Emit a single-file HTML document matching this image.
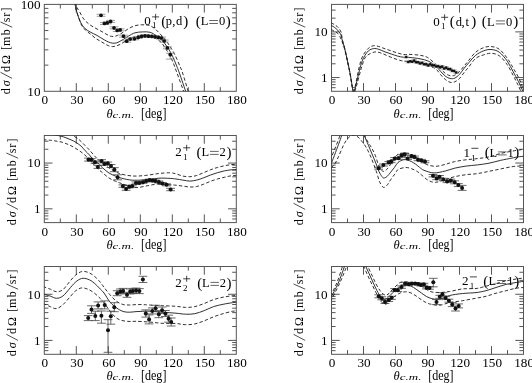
<!DOCTYPE html>
<html><head><meta charset="utf-8"><style>html,body{margin:0;padding:0;background:#fff;width:532px;height:383px;overflow:hidden}</style></head><body>
<svg width="532" height="383" viewBox="0 0 532 383" style="display:block;will-change:transform">
<rect width="532" height="383" fill="#fff"/>
<rect x="44.30" y="4.40" width="192.00" height="86.90" fill="none" stroke="#555" stroke-width="1"/>
<path d="M60.30 91.30v-4.1M60.30 4.40v4.1M76.30 91.30v-8.2M76.30 4.40v8.2M92.30 91.30v-4.1M92.30 4.40v4.1M108.30 91.30v-8.2M108.30 4.40v8.2M124.30 91.30v-4.1M124.30 4.40v4.1M140.30 91.30v-8.2M140.30 4.40v8.2M156.30 91.30v-4.1M156.30 4.40v4.1M172.30 91.30v-8.2M172.30 4.40v8.2M188.30 91.30v-4.1M188.30 4.40v4.1M204.30 91.30v-8.2M204.30 4.40v8.2M220.30 91.30v-4.1M220.30 4.40v4.1M44.30 65.14h4.1M236.30 65.14h-4.1M44.30 49.84h4.1M236.30 49.84h-4.1M44.30 38.98h4.1M236.30 38.98h-4.1M44.30 30.56h4.1M236.30 30.56h-4.1M44.30 23.68h4.1M236.30 23.68h-4.1M44.30 17.86h4.1M236.30 17.86h-4.1M44.30 12.82h4.1M236.30 12.82h-4.1M44.30 8.38h4.1M236.30 8.38h-4.1" stroke="#555" stroke-width="1" fill="none"/>
<text x="44.90" y="104.40" text-anchor="middle" font-size="13.2" font-family="Liberation Serif, serif">0</text>
<text x="76.90" y="104.40" text-anchor="middle" font-size="13.2" font-family="Liberation Serif, serif">30</text>
<text x="108.90" y="104.40" text-anchor="middle" font-size="13.2" font-family="Liberation Serif, serif">60</text>
<text x="140.90" y="104.40" text-anchor="middle" font-size="13.2" font-family="Liberation Serif, serif">90</text>
<text x="172.90" y="104.40" text-anchor="middle" font-size="13.2" font-family="Liberation Serif, serif">120</text>
<text x="204.90" y="104.40" text-anchor="middle" font-size="13.2" font-family="Liberation Serif, serif">150</text>
<text x="236.90" y="104.40" text-anchor="middle" font-size="13.2" font-family="Liberation Serif, serif">180</text>
<text x="40.50" y="95.60" text-anchor="end" font-size="13.2" font-family="Liberation Serif, serif">10</text>
<text x="40.50" y="8.70" text-anchor="end" font-size="13.2" font-family="Liberation Serif, serif">100</text>
<rect x="331.50" y="4.40" width="192.00" height="86.90" fill="none" stroke="#555" stroke-width="1"/>
<path d="M347.50 91.30v-4.1M347.50 4.40v4.1M363.50 91.30v-8.2M363.50 4.40v8.2M379.50 91.30v-4.1M379.50 4.40v4.1M395.50 91.30v-8.2M395.50 4.40v8.2M411.50 91.30v-4.1M411.50 4.40v4.1M427.50 91.30v-8.2M427.50 4.40v8.2M443.50 91.30v-4.1M443.50 4.40v4.1M459.50 91.30v-8.2M459.50 4.40v8.2M475.50 91.30v-4.1M475.50 4.40v4.1M491.50 91.30v-8.2M491.50 4.40v8.2M507.50 91.30v-4.1M507.50 4.40v4.1M331.50 87.68h4.1M523.50 87.68h-4.1M331.50 84.63h4.1M523.50 84.63h-4.1M331.50 81.98h4.1M523.50 81.98h-4.1M331.50 79.64h4.1M523.50 79.64h-4.1M331.50 77.55h8.2M523.50 77.55h-8.2M331.50 63.81h4.1M523.50 63.81h-4.1M331.50 55.77h4.1M523.50 55.77h-4.1M331.50 50.06h4.1M523.50 50.06h-4.1M331.50 45.64h4.1M523.50 45.64h-4.1M331.50 42.02h4.1M523.50 42.02h-4.1M331.50 38.96h4.1M523.50 38.96h-4.1M331.50 36.32h4.1M523.50 36.32h-4.1M331.50 33.98h4.1M523.50 33.98h-4.1M331.50 31.89h8.2M523.50 31.89h-8.2M331.50 18.15h4.1M523.50 18.15h-4.1M331.50 10.11h4.1M523.50 10.11h-4.1" stroke="#555" stroke-width="1" fill="none"/>
<text x="332.10" y="104.40" text-anchor="middle" font-size="13.2" font-family="Liberation Serif, serif">0</text>
<text x="364.10" y="104.40" text-anchor="middle" font-size="13.2" font-family="Liberation Serif, serif">30</text>
<text x="396.10" y="104.40" text-anchor="middle" font-size="13.2" font-family="Liberation Serif, serif">60</text>
<text x="428.10" y="104.40" text-anchor="middle" font-size="13.2" font-family="Liberation Serif, serif">90</text>
<text x="460.10" y="104.40" text-anchor="middle" font-size="13.2" font-family="Liberation Serif, serif">120</text>
<text x="492.10" y="104.40" text-anchor="middle" font-size="13.2" font-family="Liberation Serif, serif">150</text>
<text x="524.10" y="104.40" text-anchor="middle" font-size="13.2" font-family="Liberation Serif, serif">180</text>
<text x="327.70" y="81.85" text-anchor="end" font-size="13.2" font-family="Liberation Serif, serif">1</text>
<text x="327.70" y="36.19" text-anchor="end" font-size="13.2" font-family="Liberation Serif, serif">10</text>
<rect x="44.30" y="135.50" width="192.00" height="87.10" fill="none" stroke="#555" stroke-width="1"/>
<path d="M60.30 222.60v-4.1M60.30 135.50v4.1M76.30 222.60v-8.2M76.30 135.50v8.2M92.30 222.60v-4.1M92.30 135.50v4.1M108.30 222.60v-8.2M108.30 135.50v8.2M124.30 222.60v-4.1M124.30 135.50v4.1M140.30 222.60v-8.2M140.30 135.50v8.2M156.30 222.60v-4.1M156.30 135.50v4.1M172.30 222.60v-8.2M172.30 135.50v8.2M188.30 222.60v-4.1M188.30 135.50v4.1M204.30 222.60v-8.2M204.30 135.50v8.2M220.30 222.60v-4.1M220.30 135.50v4.1M44.30 218.98h4.1M236.30 218.98h-4.1M44.30 215.91h4.1M236.30 215.91h-4.1M44.30 213.26h4.1M236.30 213.26h-4.1M44.30 210.92h4.1M236.30 210.92h-4.1M44.30 208.82h8.2M236.30 208.82h-8.2M44.30 195.05h4.1M236.30 195.05h-4.1M44.30 186.99h4.1M236.30 186.99h-4.1M44.30 181.27h4.1M236.30 181.27h-4.1M44.30 176.83h4.1M236.30 176.83h-4.1M44.30 173.21h4.1M236.30 173.21h-4.1M44.30 170.14h4.1M236.30 170.14h-4.1M44.30 167.49h4.1M236.30 167.49h-4.1M44.30 165.15h4.1M236.30 165.15h-4.1M44.30 163.05h8.2M236.30 163.05h-8.2M44.30 149.28h4.1M236.30 149.28h-4.1M44.30 141.22h4.1M236.30 141.22h-4.1" stroke="#555" stroke-width="1" fill="none"/>
<text x="44.90" y="235.70" text-anchor="middle" font-size="13.2" font-family="Liberation Serif, serif">0</text>
<text x="76.90" y="235.70" text-anchor="middle" font-size="13.2" font-family="Liberation Serif, serif">30</text>
<text x="108.90" y="235.70" text-anchor="middle" font-size="13.2" font-family="Liberation Serif, serif">60</text>
<text x="140.90" y="235.70" text-anchor="middle" font-size="13.2" font-family="Liberation Serif, serif">90</text>
<text x="172.90" y="235.70" text-anchor="middle" font-size="13.2" font-family="Liberation Serif, serif">120</text>
<text x="204.90" y="235.70" text-anchor="middle" font-size="13.2" font-family="Liberation Serif, serif">150</text>
<text x="236.90" y="235.70" text-anchor="middle" font-size="13.2" font-family="Liberation Serif, serif">180</text>
<text x="40.50" y="213.12" text-anchor="end" font-size="13.2" font-family="Liberation Serif, serif">1</text>
<text x="40.50" y="167.35" text-anchor="end" font-size="13.2" font-family="Liberation Serif, serif">10</text>
<rect x="331.50" y="135.50" width="192.00" height="87.10" fill="none" stroke="#555" stroke-width="1"/>
<path d="M347.50 222.60v-4.1M347.50 135.50v4.1M363.50 222.60v-8.2M363.50 135.50v8.2M379.50 222.60v-4.1M379.50 135.50v4.1M395.50 222.60v-8.2M395.50 135.50v8.2M411.50 222.60v-4.1M411.50 135.50v4.1M427.50 222.60v-8.2M427.50 135.50v8.2M443.50 222.60v-4.1M443.50 135.50v4.1M459.50 222.60v-8.2M459.50 135.50v8.2M475.50 222.60v-4.1M475.50 135.50v4.1M491.50 222.60v-8.2M491.50 135.50v8.2M507.50 222.60v-4.1M507.50 135.50v4.1M331.50 218.98h4.1M523.50 218.98h-4.1M331.50 215.91h4.1M523.50 215.91h-4.1M331.50 213.26h4.1M523.50 213.26h-4.1M331.50 210.92h4.1M523.50 210.92h-4.1M331.50 208.82h8.2M523.50 208.82h-8.2M331.50 195.05h4.1M523.50 195.05h-4.1M331.50 186.99h4.1M523.50 186.99h-4.1M331.50 181.27h4.1M523.50 181.27h-4.1M331.50 176.83h4.1M523.50 176.83h-4.1M331.50 173.21h4.1M523.50 173.21h-4.1M331.50 170.14h4.1M523.50 170.14h-4.1M331.50 167.49h4.1M523.50 167.49h-4.1M331.50 165.15h4.1M523.50 165.15h-4.1M331.50 163.05h8.2M523.50 163.05h-8.2M331.50 149.28h4.1M523.50 149.28h-4.1M331.50 141.22h4.1M523.50 141.22h-4.1" stroke="#555" stroke-width="1" fill="none"/>
<text x="332.10" y="235.70" text-anchor="middle" font-size="13.2" font-family="Liberation Serif, serif">0</text>
<text x="364.10" y="235.70" text-anchor="middle" font-size="13.2" font-family="Liberation Serif, serif">30</text>
<text x="396.10" y="235.70" text-anchor="middle" font-size="13.2" font-family="Liberation Serif, serif">60</text>
<text x="428.10" y="235.70" text-anchor="middle" font-size="13.2" font-family="Liberation Serif, serif">90</text>
<text x="460.10" y="235.70" text-anchor="middle" font-size="13.2" font-family="Liberation Serif, serif">120</text>
<text x="492.10" y="235.70" text-anchor="middle" font-size="13.2" font-family="Liberation Serif, serif">150</text>
<text x="524.10" y="235.70" text-anchor="middle" font-size="13.2" font-family="Liberation Serif, serif">180</text>
<text x="327.70" y="213.12" text-anchor="end" font-size="13.2" font-family="Liberation Serif, serif">1</text>
<text x="327.70" y="167.35" text-anchor="end" font-size="13.2" font-family="Liberation Serif, serif">10</text>
<rect x="44.30" y="266.50" width="192.00" height="87.80" fill="none" stroke="#555" stroke-width="1"/>
<path d="M60.30 354.30v-4.1M60.30 266.50v4.1M76.30 354.30v-8.2M76.30 266.50v8.2M92.30 354.30v-4.1M92.30 266.50v4.1M108.30 354.30v-8.2M108.30 266.50v8.2M124.30 354.30v-4.1M124.30 266.50v4.1M140.30 354.30v-8.2M140.30 266.50v8.2M156.30 354.30v-4.1M156.30 266.50v4.1M172.30 354.30v-8.2M172.30 266.50v8.2M188.30 354.30v-4.1M188.30 266.50v4.1M204.30 354.30v-8.2M204.30 266.50v8.2M220.30 354.30v-4.1M220.30 266.50v4.1M44.30 350.65h4.1M236.30 350.65h-4.1M44.30 347.56h4.1M236.30 347.56h-4.1M44.30 344.88h4.1M236.30 344.88h-4.1M44.30 342.52h4.1M236.30 342.52h-4.1M44.30 340.41h8.2M236.30 340.41h-8.2M44.30 326.52h4.1M236.30 326.52h-4.1M44.30 318.40h4.1M236.30 318.40h-4.1M44.30 312.64h4.1M236.30 312.64h-4.1M44.30 308.16h4.1M236.30 308.16h-4.1M44.30 304.51h4.1M236.30 304.51h-4.1M44.30 301.42h4.1M236.30 301.42h-4.1M44.30 298.75h4.1M236.30 298.75h-4.1M44.30 296.39h4.1M236.30 296.39h-4.1M44.30 294.28h8.2M236.30 294.28h-8.2M44.30 280.39h4.1M236.30 280.39h-4.1M44.30 272.26h4.1M236.30 272.26h-4.1" stroke="#555" stroke-width="1" fill="none"/>
<text x="44.90" y="367.40" text-anchor="middle" font-size="13.2" font-family="Liberation Serif, serif">0</text>
<text x="76.90" y="367.40" text-anchor="middle" font-size="13.2" font-family="Liberation Serif, serif">30</text>
<text x="108.90" y="367.40" text-anchor="middle" font-size="13.2" font-family="Liberation Serif, serif">60</text>
<text x="140.90" y="367.40" text-anchor="middle" font-size="13.2" font-family="Liberation Serif, serif">90</text>
<text x="172.90" y="367.40" text-anchor="middle" font-size="13.2" font-family="Liberation Serif, serif">120</text>
<text x="204.90" y="367.40" text-anchor="middle" font-size="13.2" font-family="Liberation Serif, serif">150</text>
<text x="236.90" y="367.40" text-anchor="middle" font-size="13.2" font-family="Liberation Serif, serif">180</text>
<text x="40.50" y="344.71" text-anchor="end" font-size="13.2" font-family="Liberation Serif, serif">1</text>
<text x="40.50" y="298.58" text-anchor="end" font-size="13.2" font-family="Liberation Serif, serif">10</text>
<rect x="331.50" y="266.50" width="192.00" height="87.80" fill="none" stroke="#555" stroke-width="1"/>
<path d="M347.50 354.30v-4.1M347.50 266.50v4.1M363.50 354.30v-8.2M363.50 266.50v8.2M379.50 354.30v-4.1M379.50 266.50v4.1M395.50 354.30v-8.2M395.50 266.50v8.2M411.50 354.30v-4.1M411.50 266.50v4.1M427.50 354.30v-8.2M427.50 266.50v8.2M443.50 354.30v-4.1M443.50 266.50v4.1M459.50 354.30v-8.2M459.50 266.50v8.2M475.50 354.30v-4.1M475.50 266.50v4.1M491.50 354.30v-8.2M491.50 266.50v8.2M507.50 354.30v-4.1M507.50 266.50v4.1M331.50 350.65h4.1M523.50 350.65h-4.1M331.50 347.56h4.1M523.50 347.56h-4.1M331.50 344.88h4.1M523.50 344.88h-4.1M331.50 342.52h4.1M523.50 342.52h-4.1M331.50 340.41h8.2M523.50 340.41h-8.2M331.50 326.52h4.1M523.50 326.52h-4.1M331.50 318.40h4.1M523.50 318.40h-4.1M331.50 312.64h4.1M523.50 312.64h-4.1M331.50 308.16h4.1M523.50 308.16h-4.1M331.50 304.51h4.1M523.50 304.51h-4.1M331.50 301.42h4.1M523.50 301.42h-4.1M331.50 298.75h4.1M523.50 298.75h-4.1M331.50 296.39h4.1M523.50 296.39h-4.1M331.50 294.28h8.2M523.50 294.28h-8.2M331.50 280.39h4.1M523.50 280.39h-4.1M331.50 272.26h4.1M523.50 272.26h-4.1" stroke="#555" stroke-width="1" fill="none"/>
<text x="332.10" y="367.40" text-anchor="middle" font-size="13.2" font-family="Liberation Serif, serif">0</text>
<text x="364.10" y="367.40" text-anchor="middle" font-size="13.2" font-family="Liberation Serif, serif">30</text>
<text x="396.10" y="367.40" text-anchor="middle" font-size="13.2" font-family="Liberation Serif, serif">60</text>
<text x="428.10" y="367.40" text-anchor="middle" font-size="13.2" font-family="Liberation Serif, serif">90</text>
<text x="460.10" y="367.40" text-anchor="middle" font-size="13.2" font-family="Liberation Serif, serif">120</text>
<text x="492.10" y="367.40" text-anchor="middle" font-size="13.2" font-family="Liberation Serif, serif">150</text>
<text x="524.10" y="367.40" text-anchor="middle" font-size="13.2" font-family="Liberation Serif, serif">180</text>
<text x="327.70" y="344.71" text-anchor="end" font-size="13.2" font-family="Liberation Serif, serif">1</text>
<text x="327.70" y="298.58" text-anchor="end" font-size="13.2" font-family="Liberation Serif, serif">10</text>
<text x="106.40" y="117.90" font-size="12.5" font-style="italic" font-family="Liberation Serif, serif">θ</text>
<text x="112.60" y="118.30" font-size="9" font-style="italic" font-family="Liberation Serif, serif" textLength="21.6" lengthAdjust="spacingAndGlyphs">c.m.</text>
<text x="141.00" y="118.20" font-size="13.6" font-family="Liberation Serif, serif" textLength="25.4" lengthAdjust="spacingAndGlyphs">[deg]</text>
<text x="393.60" y="117.90" font-size="12.5" font-style="italic" font-family="Liberation Serif, serif">θ</text>
<text x="399.80" y="118.30" font-size="9" font-style="italic" font-family="Liberation Serif, serif" textLength="21.6" lengthAdjust="spacingAndGlyphs">c.m.</text>
<text x="428.20" y="118.20" font-size="13.6" font-family="Liberation Serif, serif" textLength="25.4" lengthAdjust="spacingAndGlyphs">[deg]</text>
<text x="106.40" y="248.90" font-size="12.5" font-style="italic" font-family="Liberation Serif, serif">θ</text>
<text x="112.60" y="249.30" font-size="9" font-style="italic" font-family="Liberation Serif, serif" textLength="21.6" lengthAdjust="spacingAndGlyphs">c.m.</text>
<text x="141.00" y="249.20" font-size="13.6" font-family="Liberation Serif, serif" textLength="25.4" lengthAdjust="spacingAndGlyphs">[deg]</text>
<text x="393.60" y="248.90" font-size="12.5" font-style="italic" font-family="Liberation Serif, serif">θ</text>
<text x="399.80" y="249.30" font-size="9" font-style="italic" font-family="Liberation Serif, serif" textLength="21.6" lengthAdjust="spacingAndGlyphs">c.m.</text>
<text x="428.20" y="249.20" font-size="13.6" font-family="Liberation Serif, serif" textLength="25.4" lengthAdjust="spacingAndGlyphs">[deg]</text>
<text x="106.40" y="379.90" font-size="12.5" font-style="italic" font-family="Liberation Serif, serif">θ</text>
<text x="112.60" y="380.30" font-size="9" font-style="italic" font-family="Liberation Serif, serif" textLength="21.6" lengthAdjust="spacingAndGlyphs">c.m.</text>
<text x="141.00" y="380.20" font-size="13.6" font-family="Liberation Serif, serif" textLength="25.4" lengthAdjust="spacingAndGlyphs">[deg]</text>
<text x="393.60" y="379.90" font-size="12.5" font-style="italic" font-family="Liberation Serif, serif">θ</text>
<text x="399.80" y="380.30" font-size="9" font-style="italic" font-family="Liberation Serif, serif" textLength="21.6" lengthAdjust="spacingAndGlyphs">c.m.</text>
<text x="428.20" y="380.20" font-size="13.6" font-family="Liberation Serif, serif" textLength="25.4" lengthAdjust="spacingAndGlyphs">[deg]</text>
<text transform="translate(9.90,94.60) rotate(-90)" text-anchor="middle" font-size="12" font-family="Liberation Serif, serif"><tspan x="3.3">d</tspan><tspan x="11.3" font-style="italic">σ</tspan><tspan x="25.5">d</tspan><tspan x="35.1">Ω</tspan><tspan x="46.5">[</tspan><tspan x="53.35">m</tspan><tspan x="62.3">b</tspan><tspan x="74.6">s</tspan><tspan x="79.95">r</tspan><tspan x="85.1">]</tspan></text>
<path d="M0.50 22.00L12.20 27.20M0.50 72.30L12.10 78.40" stroke="#222" stroke-width="0.8"/>
<text transform="translate(302.95,94.60) rotate(-90)" text-anchor="middle" font-size="12" font-family="Liberation Serif, serif"><tspan x="3.3">d</tspan><tspan x="11.3" font-style="italic">σ</tspan><tspan x="25.5">d</tspan><tspan x="35.1">Ω</tspan><tspan x="46.5">[</tspan><tspan x="53.35">m</tspan><tspan x="62.3">b</tspan><tspan x="74.6">s</tspan><tspan x="79.95">r</tspan><tspan x="85.1">]</tspan></text>
<path d="M293.55 22.00L305.25 27.20M293.55 72.30L305.15 78.40" stroke="#222" stroke-width="0.8"/>
<text transform="translate(15.75,225.60) rotate(-90)" text-anchor="middle" font-size="12" font-family="Liberation Serif, serif"><tspan x="3.3">d</tspan><tspan x="11.3" font-style="italic">σ</tspan><tspan x="25.5">d</tspan><tspan x="35.1">Ω</tspan><tspan x="46.5">[</tspan><tspan x="53.35">m</tspan><tspan x="62.3">b</tspan><tspan x="74.6">s</tspan><tspan x="79.95">r</tspan><tspan x="85.1">]</tspan></text>
<path d="M6.35 153.00L18.05 158.20M6.35 203.30L17.95 209.40" stroke="#222" stroke-width="0.8"/>
<text transform="translate(302.95,225.60) rotate(-90)" text-anchor="middle" font-size="12" font-family="Liberation Serif, serif"><tspan x="3.3">d</tspan><tspan x="11.3" font-style="italic">σ</tspan><tspan x="25.5">d</tspan><tspan x="35.1">Ω</tspan><tspan x="46.5">[</tspan><tspan x="53.35">m</tspan><tspan x="62.3">b</tspan><tspan x="74.6">s</tspan><tspan x="79.95">r</tspan><tspan x="85.1">]</tspan></text>
<path d="M293.55 153.00L305.25 158.20M293.55 203.30L305.15 209.40" stroke="#222" stroke-width="0.8"/>
<text transform="translate(15.75,356.60) rotate(-90)" text-anchor="middle" font-size="12" font-family="Liberation Serif, serif"><tspan x="3.3">d</tspan><tspan x="11.3" font-style="italic">σ</tspan><tspan x="25.5">d</tspan><tspan x="35.1">Ω</tspan><tspan x="46.5">[</tspan><tspan x="53.35">m</tspan><tspan x="62.3">b</tspan><tspan x="74.6">s</tspan><tspan x="79.95">r</tspan><tspan x="85.1">]</tspan></text>
<path d="M6.35 284.00L18.05 289.20M6.35 334.30L17.95 340.40" stroke="#222" stroke-width="0.8"/>
<text transform="translate(302.95,356.60) rotate(-90)" text-anchor="middle" font-size="12" font-family="Liberation Serif, serif"><tspan x="3.3">d</tspan><tspan x="11.3" font-style="italic">σ</tspan><tspan x="25.5">d</tspan><tspan x="35.1">Ω</tspan><tspan x="46.5">[</tspan><tspan x="53.35">m</tspan><tspan x="62.3">b</tspan><tspan x="74.6">s</tspan><tspan x="79.95">r</tspan><tspan x="85.1">]</tspan></text>
<path d="M293.55 284.00L305.25 289.20M293.55 334.30L305.15 340.40" stroke="#222" stroke-width="0.8"/>
<text x="144.20" y="25.40" font-size="13" font-family="Liberation Serif, serif">0</text>
<path d="M152.10 16.90H159.10M155.60 13.90V19.90" stroke="#222" stroke-width="0.85"/>
<text x="152.00" y="28.40" font-size="9" font-family="Liberation Serif, serif">1</text>
<text y="25.80" font-size="15" text-anchor="middle" font-family="Liberation Serif, serif"><tspan x="163.71">(</tspan><tspan x="185.84">)</tspan></text>
<text y="25.40" font-size="12.5" text-anchor="middle" font-family="Liberation Serif, serif"><tspan x="168.88">p</tspan><tspan x="173.73">,</tspan><tspan x="179.21">d</tspan></text>
<text y="25.80" font-size="15" text-anchor="middle" font-family="Liberation Serif, serif"><tspan x="198.21">(</tspan><tspan x="228.20">)</tspan></text>
<text y="25.40" font-size="12.5" text-anchor="middle" font-family="Liberation Serif, serif"><tspan x="204.50">L</tspan><tspan x="222.01">0</tspan></text>
<path d="M209.26 20.50H217.93M209.26 23.50H217.93" stroke="#333" stroke-width="0.75"/>
<text x="433.20" y="25.80" font-size="13" font-family="Liberation Serif, serif">0</text>
<path d="M441.10 17.30H448.10M444.60 14.30V20.30" stroke="#222" stroke-width="0.85"/>
<text x="441.00" y="28.80" font-size="9" font-family="Liberation Serif, serif">1</text>
<text y="26.20" font-size="15" text-anchor="middle" font-family="Liberation Serif, serif"><tspan x="452.25">(</tspan><tspan x="473.73">)</tspan></text>
<text y="25.80" font-size="12.5" text-anchor="middle" font-family="Liberation Serif, serif"><tspan x="458.85">d</tspan><tspan x="463.16">,</tspan><tspan x="467.33">t</tspan></text>
<text y="26.20" font-size="15" text-anchor="middle" font-family="Liberation Serif, serif"><tspan x="484.31">(</tspan><tspan x="515.71">)</tspan></text>
<text y="25.80" font-size="12.5" text-anchor="middle" font-family="Liberation Serif, serif"><tspan x="490.90">L</tspan><tspan x="509.23">0</tspan></text>
<path d="M495.88 20.90H504.96M495.88 23.90H504.96" stroke="#333" stroke-width="0.75"/>
<text x="175.30" y="156.30" font-size="13" font-family="Liberation Serif, serif">2</text>
<path d="M183.20 147.80H190.20M186.70 144.80V150.80" stroke="#222" stroke-width="0.85"/>
<text x="183.10" y="160.10" font-size="9" font-family="Liberation Serif, serif">1</text>
<text y="156.70" font-size="15" text-anchor="middle" font-family="Liberation Serif, serif"><tspan x="199.00">(</tspan><tspan x="228.90">)</tspan></text>
<text y="156.30" font-size="12.5" text-anchor="middle" font-family="Liberation Serif, serif"><tspan x="205.28">L</tspan><tspan x="222.73">2</tspan></text>
<path d="M210.02 151.40H218.67M210.02 154.40H218.67" stroke="#333" stroke-width="0.75"/>
<text x="463.50" y="156.80" font-size="13" font-family="Liberation Serif, serif">1</text>
<path d="M471.40 148.30H478.40" stroke="#222" stroke-width="0.85"/>
<text x="471.30" y="160.60" font-size="9" font-family="Liberation Serif, serif">1</text>
<text y="157.20" font-size="15" text-anchor="middle" font-family="Liberation Serif, serif"><tspan x="487.18">(</tspan><tspan x="516.82">)</tspan></text>
<text y="156.80" font-size="12.5" text-anchor="middle" font-family="Liberation Serif, serif"><tspan x="493.40">L</tspan><tspan x="510.70">1</tspan></text>
<path d="M498.10 151.90H506.67M498.10 154.90H506.67" stroke="#333" stroke-width="0.75"/>
<text x="175.30" y="287.30" font-size="13" font-family="Liberation Serif, serif">2</text>
<path d="M183.20 278.80H190.20M186.70 275.80V281.80" stroke="#222" stroke-width="0.85"/>
<text x="183.10" y="291.10" font-size="9" font-family="Liberation Serif, serif">2</text>
<text y="287.70" font-size="15" text-anchor="middle" font-family="Liberation Serif, serif"><tspan x="199.75">(</tspan><tspan x="228.95">)</tspan></text>
<text y="287.30" font-size="12.5" text-anchor="middle" font-family="Liberation Serif, serif"><tspan x="205.88">L</tspan><tspan x="222.92">2</tspan></text>
<path d="M210.51 282.40H218.95M210.51 285.40H218.95" stroke="#333" stroke-width="0.75"/>
<text x="462.00" y="285.40" font-size="13" font-family="Liberation Serif, serif">2</text>
<path d="M469.90 276.90H476.90" stroke="#222" stroke-width="0.85"/>
<text x="469.80" y="289.20" font-size="9" font-family="Liberation Serif, serif">1</text>
<text y="285.80" font-size="15" text-anchor="middle" font-family="Liberation Serif, serif"><tspan x="485.87">(</tspan><tspan x="516.65">)</tspan></text>
<text y="285.40" font-size="12.5" text-anchor="middle" font-family="Liberation Serif, serif"><tspan x="492.33">L</tspan><tspan x="510.30">1</tspan></text>
<path d="M497.21 280.50H506.11M497.21 283.50H506.11" stroke="#333" stroke-width="0.75"/>
<clipPath id="clip00"><rect x="44.30" y="4.40" width="192.00" height="86.90"/></clipPath>
<g clip-path="url(#clip00)" fill="none" stroke="#1a1a1a" stroke-width="0.9">
<path d="M74.60 2.00 C74.70 2.53 74.75 3.27 75.20 5.20 C75.65 7.13 76.43 10.82 77.30 13.60 C78.17 16.38 79.18 19.47 80.40 21.90 C81.62 24.33 82.85 26.45 84.60 28.20 C86.35 29.95 89.00 31.28 90.90 32.40 C92.80 33.52 94.45 34.07 96.00 34.90 C97.55 35.73 98.80 36.57 100.20 37.40 C101.60 38.23 103.02 39.13 104.40 39.90 C105.78 40.67 107.12 41.45 108.50 42.00 C109.88 42.55 111.30 43.07 112.70 43.20 C114.10 43.33 115.52 43.22 116.90 42.80 C118.28 42.38 119.62 41.47 121.00 40.70 C122.38 39.93 123.93 38.98 125.20 38.20 C126.47 37.42 126.97 36.90 128.60 36.00 C130.23 35.10 132.67 33.48 135.00 32.80 C137.33 32.12 140.08 31.98 142.60 31.90 C145.12 31.82 147.82 31.67 150.10 32.30 C152.38 32.93 154.43 34.52 156.30 35.70 C158.17 36.88 159.85 38.05 161.30 39.40 C162.75 40.75 163.75 42.13 165.00 43.80 C166.25 45.47 167.53 47.32 168.80 49.40 C170.07 51.48 171.35 53.68 172.60 56.30 C173.85 58.92 175.17 62.32 176.30 65.10 C177.43 67.88 177.75 68.35 179.40 73.00 C181.05 77.65 185.07 89.67 186.20 93.00"/>
<path d="M75.50 2.00 C75.63 2.72 75.65 4.72 76.30 6.30 C76.95 7.88 78.18 9.42 79.40 11.50 C80.62 13.58 82.03 16.72 83.60 18.80 C85.17 20.88 86.90 22.48 88.80 24.00 C90.70 25.52 92.97 26.72 95.00 27.90 C97.03 29.08 99.17 30.08 101.00 31.10 C102.83 32.12 104.47 33.17 106.00 34.00 C107.53 34.83 108.80 35.70 110.20 36.10 C111.60 36.50 113.15 36.53 114.40 36.40 C115.65 36.27 116.60 35.77 117.70 35.30 C118.80 34.83 119.88 34.23 121.00 33.60 C122.12 32.97 123.10 32.35 124.40 31.50 C125.70 30.65 127.03 29.47 128.80 28.50 C130.57 27.53 132.92 26.32 135.00 25.70 C137.08 25.08 139.42 24.92 141.30 24.80 C143.18 24.68 144.85 24.87 146.30 25.00 C147.75 25.13 148.55 24.97 150.00 25.60 C151.45 26.23 153.33 27.43 155.00 28.80 C156.67 30.17 158.33 32.03 160.00 33.80 C161.67 35.57 163.33 37.32 165.00 39.40 C166.67 41.48 168.33 43.70 170.00 46.30 C171.67 48.90 173.33 51.65 175.00 55.00 C176.67 58.35 178.73 63.40 180.00 66.40 C181.27 69.40 181.15 68.57 182.60 73.00 C184.05 77.43 187.68 89.67 188.70 93.00" stroke-dasharray="3.4 2.2"/>
<path d="M75.20 2.00 C75.28 3.07 75.17 5.95 75.70 8.40 C76.23 10.85 77.43 13.92 78.40 16.70 C79.37 19.48 80.28 22.83 81.50 25.10 C82.72 27.37 84.13 28.75 85.70 30.30 C87.27 31.85 89.18 33.02 90.90 34.40 C92.62 35.78 94.45 37.48 96.00 38.60 C97.55 39.72 98.80 40.27 100.20 41.10 C101.60 41.93 103.02 42.83 104.40 43.60 C105.78 44.37 107.12 45.20 108.50 45.70 C109.88 46.20 111.30 46.60 112.70 46.60 C114.10 46.60 115.52 46.13 116.90 45.70 C118.28 45.27 119.62 44.77 121.00 44.00 C122.38 43.23 123.90 41.97 125.20 41.10 C126.50 40.23 127.17 39.55 128.80 38.80 C130.43 38.05 132.92 37.12 135.00 36.60 C137.08 36.08 139.20 35.85 141.30 35.70 C143.40 35.55 145.82 35.50 147.60 35.70 C149.38 35.90 150.55 36.38 152.00 36.90 C153.45 37.42 154.75 37.87 156.30 38.80 C157.85 39.73 159.85 41.03 161.30 42.50 C162.75 43.97 163.75 45.72 165.00 47.60 C166.25 49.48 167.53 51.52 168.80 53.80 C170.07 56.08 171.23 58.10 172.60 61.30 C173.97 64.50 175.05 67.72 177.00 73.00 C178.95 78.28 183.08 89.67 184.30 93.00" stroke-dasharray="3.4 2.2"/>
</g>
<g fill="#111" stroke="#888" stroke-width="0.8">
<path d="M96.60 14.30h8.80M96.60 16.30h8.80M101.00 14.30V16.30M100.00 22.50h8.80M100.00 24.50h8.80M104.40 22.50V24.50M102.90 21.80h8.80M102.90 23.80h8.80M107.30 21.80V23.80M106.20 20.40h8.80M106.20 22.40h8.80M110.60 20.40V22.40M109.60 26.80h8.80M109.60 28.80h8.80M114.00 26.80V28.80M112.80 29.50h8.80M112.80 31.50h8.80M117.20 29.50V31.50M115.80 28.80h8.80M115.80 30.80h8.80M120.20 28.80V30.80M119.10 35.20h8.80M119.10 37.20h8.80M123.50 35.20V37.20M122.30 40.20h8.80M122.30 42.20h8.80M126.70 40.20V42.20M125.80 38.00h8.80M125.80 40.00h8.80M130.20 38.00V40.00M130.10 37.80h8.80M130.10 39.80h8.80M134.50 37.80V39.80M133.80 36.40h8.80M133.80 38.40h8.80M138.20 36.40V38.40M137.20 35.30h8.80M137.20 37.30h8.80M141.60 35.30V37.30M140.60 34.80h8.80M140.60 36.80h8.80M145.00 34.80V36.80M144.00 35.20h8.80M144.00 37.20h8.80M148.40 35.20V37.20M147.40 35.30h8.80M147.40 37.30h8.80M151.80 35.30V37.30M150.70 35.80h8.80M150.70 37.80h8.80M155.10 35.80V37.80M154.00 36.40h8.80M154.00 38.40h8.80M158.40 36.40V38.40M157.20 37.00h8.80M157.20 39.00h8.80M161.60 37.00V39.00M159.80 40.00h8.80M159.80 42.00h8.80M164.20 40.00V42.00M163.00 46.80h8.80M163.00 48.80h8.80M167.40 46.80V48.80M165.90 53.20h8.80M165.90 59.10h8.80M170.30 53.20V59.10" fill="none"/>
<circle cx="101.00" cy="15.30" r="1.85" stroke="none"/>
<circle cx="104.40" cy="23.50" r="1.85" stroke="none"/>
<circle cx="107.30" cy="22.80" r="1.85" stroke="none"/>
<circle cx="110.60" cy="21.40" r="1.85" stroke="none"/>
<circle cx="114.00" cy="27.80" r="1.85" stroke="none"/>
<circle cx="117.20" cy="30.50" r="1.85" stroke="none"/>
<circle cx="120.20" cy="29.80" r="1.85" stroke="none"/>
<circle cx="123.50" cy="36.20" r="1.85" stroke="none"/>
<circle cx="126.70" cy="41.20" r="1.85" stroke="none"/>
<circle cx="130.20" cy="39.00" r="1.85" stroke="none"/>
<circle cx="134.50" cy="38.80" r="1.85" stroke="none"/>
<circle cx="138.20" cy="37.40" r="1.85" stroke="none"/>
<circle cx="141.60" cy="36.30" r="1.85" stroke="none"/>
<circle cx="145.00" cy="35.80" r="1.85" stroke="none"/>
<circle cx="148.40" cy="36.20" r="1.85" stroke="none"/>
<circle cx="151.80" cy="36.30" r="1.85" stroke="none"/>
<circle cx="155.10" cy="36.80" r="1.85" stroke="none"/>
<circle cx="158.40" cy="37.40" r="1.85" stroke="none"/>
<circle cx="161.60" cy="38.00" r="1.85" stroke="none"/>
<circle cx="164.20" cy="41.00" r="1.85" stroke="none"/>
<circle cx="167.40" cy="47.80" r="1.85" stroke="none"/>
<circle cx="170.30" cy="54.70" r="1.85" stroke="none"/>
</g>
<clipPath id="clip01"><rect x="331.50" y="4.40" width="192.00" height="86.90"/></clipPath>
<g clip-path="url(#clip01)" fill="none" stroke="#1a1a1a" stroke-width="0.9">
<path d="M331.00 25.20 C331.78 25.70 334.40 27.12 335.70 28.20 C337.00 29.28 337.92 30.57 338.80 31.70 C339.68 32.83 340.43 33.62 341.00 35.00 C341.57 36.38 341.58 37.75 342.20 40.00 C342.82 42.25 343.82 45.00 344.70 48.50 C345.58 52.00 346.62 56.92 347.50 61.00 C348.38 65.08 349.25 69.00 350.00 73.00 C350.75 77.00 351.50 82.20 352.00 85.00 C352.50 87.80 352.55 89.00 353.00 89.80 C353.45 90.60 354.17 90.77 354.70 89.80 C355.23 88.83 355.53 86.72 356.20 84.00 C356.87 81.28 357.95 76.58 358.70 73.50 C359.45 70.42 359.87 68.17 360.70 65.50 C361.53 62.83 362.42 59.93 363.70 57.50 C364.98 55.07 366.75 52.38 368.40 50.90 C370.05 49.42 371.87 48.87 373.60 48.60 C375.33 48.33 376.90 48.75 378.80 49.30 C380.70 49.85 382.92 51.12 385.00 51.90 C387.08 52.68 389.20 53.30 391.30 54.00 C393.40 54.70 395.52 55.55 397.60 56.10 C399.68 56.65 401.73 57.07 403.80 57.30 C405.87 57.53 407.30 57.25 410.00 57.50 C412.70 57.75 416.87 58.17 420.00 58.80 C423.13 59.43 426.13 60.05 428.80 61.30 C431.47 62.55 434.02 64.60 436.00 66.30 C437.98 68.00 439.13 69.85 440.70 71.50 C442.27 73.15 443.83 75.03 445.40 76.20 C446.97 77.37 448.53 78.18 450.10 78.50 C451.67 78.82 453.23 78.80 454.80 78.10 C456.37 77.40 457.93 75.95 459.50 74.30 C461.07 72.65 462.63 70.15 464.20 68.20 C465.77 66.25 467.03 64.72 468.90 62.60 C470.77 60.48 473.02 57.43 475.40 55.50 C477.78 53.57 480.60 52.00 483.20 51.00 C485.80 50.00 488.32 49.30 491.00 49.50 C493.68 49.70 496.58 50.25 499.30 52.20 C502.02 54.15 504.98 57.93 507.30 61.20 C509.62 64.47 511.37 68.45 513.20 71.80 C515.03 75.15 516.70 78.10 518.30 81.30 C519.90 84.50 522.05 89.38 522.80 91.00"/>
<path d="M331.00 22.70 C331.78 23.15 334.40 24.48 335.70 25.40 C337.00 26.32 337.88 27.02 338.80 28.20 C339.72 29.38 340.63 30.70 341.20 32.50 C341.77 34.30 341.65 36.50 342.20 39.00 C342.75 41.50 343.67 44.00 344.50 47.50 C345.33 51.00 346.33 55.92 347.20 60.00 C348.07 64.08 348.95 68.00 349.70 72.00 C350.45 76.00 351.20 81.03 351.70 84.00 C352.20 86.97 352.28 88.83 352.70 89.80 C353.12 90.77 353.70 90.77 354.20 89.80 C354.70 88.83 355.12 86.63 355.70 84.00 C356.28 81.37 357.03 77.17 357.70 74.00 C358.37 70.83 358.87 68.00 359.70 65.00 C360.53 62.00 361.25 58.78 362.70 56.00 C364.15 53.22 366.58 50.02 368.40 48.30 C370.22 46.58 371.87 46.00 373.60 45.70 C375.33 45.40 376.90 45.98 378.80 46.50 C380.70 47.02 382.92 48.07 385.00 48.80 C387.08 49.53 389.20 50.20 391.30 50.90 C393.40 51.60 395.52 52.40 397.60 53.00 C399.68 53.60 401.73 54.27 403.80 54.50 C405.87 54.73 407.30 54.27 410.00 54.40 C412.70 54.53 417.07 54.78 420.00 55.30 C422.93 55.82 424.93 55.97 427.60 57.50 C430.27 59.03 433.82 62.57 436.00 64.50 C438.18 66.43 439.13 67.62 440.70 69.10 C442.27 70.58 443.83 72.30 445.40 73.40 C446.97 74.50 448.53 75.40 450.10 75.70 C451.67 76.00 453.23 75.90 454.80 75.20 C456.37 74.50 457.93 73.05 459.50 71.50 C461.07 69.95 462.63 67.78 464.20 65.90 C465.77 64.02 467.03 62.45 468.90 60.20 C470.77 57.95 473.02 54.47 475.40 52.40 C477.78 50.33 480.60 48.78 483.20 47.80 C485.80 46.82 488.32 46.25 491.00 46.50 C493.68 46.75 496.58 47.33 499.30 49.30 C502.02 51.27 504.97 55.15 507.30 58.30 C509.63 61.45 511.35 64.85 513.30 68.20 C515.25 71.55 517.30 74.77 519.00 78.40 C520.70 82.03 522.75 88.07 523.50 90.00" stroke-dasharray="3.4 2.2"/>
<path d="M331.00 29.40 C331.65 29.78 333.72 30.98 334.90 31.70 C336.08 32.42 337.25 32.85 338.10 33.70 C338.95 34.55 339.35 35.50 340.00 36.80 C340.65 38.10 341.22 39.38 342.00 41.50 C342.78 43.62 343.75 46.08 344.70 49.50 C345.65 52.92 346.78 57.92 347.70 62.00 C348.62 66.08 349.45 70.00 350.20 74.00 C350.95 78.00 351.70 83.37 352.20 86.00 C352.70 88.63 352.70 89.17 353.20 89.80 C353.70 90.43 354.57 90.77 355.20 89.80 C355.83 88.83 356.25 86.63 357.00 84.00 C357.75 81.37 358.88 77.00 359.70 74.00 C360.52 71.00 360.93 68.82 361.90 66.00 C362.87 63.18 364.08 59.18 365.50 57.10 C366.92 55.02 368.70 54.37 370.40 53.50 C372.10 52.63 373.95 51.98 375.70 51.90 C377.45 51.82 379.00 52.38 380.90 53.00 C382.80 53.62 385.02 54.73 387.10 55.60 C389.18 56.47 391.30 57.42 393.40 58.20 C395.50 58.98 397.62 59.78 399.70 60.30 C401.78 60.82 402.52 60.92 405.90 61.30 C409.28 61.68 415.98 61.77 420.00 62.60 C424.02 63.43 427.33 65.22 430.00 66.30 C432.67 67.38 434.22 67.68 436.00 69.10 C437.78 70.52 439.13 73.07 440.70 74.80 C442.27 76.53 443.83 78.25 445.40 79.50 C446.97 80.75 448.53 81.92 450.10 82.30 C451.67 82.68 453.23 82.43 454.80 81.80 C456.37 81.17 457.93 80.07 459.50 78.50 C461.07 76.93 462.63 74.35 464.20 72.40 C465.77 70.45 467.03 69.10 468.90 66.80 C470.77 64.50 473.02 60.57 475.40 58.60 C477.78 56.63 480.60 55.88 483.20 55.00 C485.80 54.12 488.32 53.17 491.00 53.30 C493.68 53.43 496.58 53.88 499.30 55.80 C502.02 57.72 504.98 61.52 507.30 64.80 C509.62 68.08 511.48 72.27 513.20 75.50 C514.92 78.73 516.30 81.53 517.60 84.20 C518.90 86.87 520.43 90.28 521.00 91.50" stroke-dasharray="3.4 2.2"/>
</g>
<g fill="#111" stroke="#999" stroke-width="0.8">
<path d="M403.60 56.08h5.20M403.60 57.88h5.20M406.20 56.08V57.88M405.60 61.03h5.20M405.60 62.83h5.20M408.20 61.03V62.83M407.60 60.34h5.20M407.60 62.14h5.20M410.20 60.34V62.14M409.60 60.84h5.20M409.60 62.64h5.20M412.20 60.84V62.64M411.60 59.74h5.20M411.60 61.54h5.20M414.20 59.74V61.54M413.60 61.23h5.20M413.60 63.03h5.20M416.20 61.23V63.03M415.60 61.37h5.20M415.60 63.17h5.20M418.20 61.37V63.17M417.60 62.54h5.20M417.60 64.34h5.20M420.20 62.54V64.34M419.60 61.89h5.20M419.60 63.69h5.20M422.20 61.89V63.69M421.60 63.40h5.20M421.60 65.20h5.20M424.20 63.40V65.20M423.60 63.24h5.20M423.60 65.04h5.20M426.20 63.24V65.04M425.60 64.63h5.20M425.60 66.43h5.20M428.20 64.63V66.43M427.60 63.42h5.20M427.60 65.22h5.20M430.20 63.42V65.22M429.60 64.50h5.20M429.60 66.30h5.20M432.20 64.50V66.30M431.60 64.29h5.20M431.60 66.09h5.20M434.20 64.29V66.09M433.60 65.62h5.20M433.60 67.42h5.20M436.20 65.62V67.42M435.60 65.27h5.20M435.60 67.08h5.20M438.20 65.27V67.08M437.60 66.28h5.20M437.60 68.08h5.20M440.20 66.28V68.08M439.60 65.76h5.20M439.60 67.56h5.20M442.20 65.76V67.56M441.60 67.61h5.20M441.60 69.41h5.20M444.20 67.61V69.41M443.60 66.74h5.20M443.60 68.54h5.20M446.20 66.74V68.54M445.60 68.10h5.20M445.60 69.90h5.20M448.20 68.10V69.90M447.60 68.24h5.20M447.60 70.04h5.20M450.20 68.24V70.04M449.60 69.89h5.20M449.60 71.69h5.20M452.20 69.89V71.69M451.60 70.05h5.20M451.60 71.85h5.20M454.20 70.05V71.85M453.60 71.60h5.20M453.60 73.40h5.20M456.20 71.60V73.40" fill="none"/>
<circle cx="406.20" cy="56.98" r="1.3" stroke="none"/>
<circle cx="408.20" cy="61.93" r="1.3" stroke="none"/>
<circle cx="410.20" cy="61.24" r="1.3" stroke="none"/>
<circle cx="412.20" cy="61.74" r="1.3" stroke="none"/>
<circle cx="414.20" cy="60.64" r="1.3" stroke="none"/>
<circle cx="416.20" cy="62.13" r="1.3" stroke="none"/>
<circle cx="418.20" cy="62.27" r="1.3" stroke="none"/>
<circle cx="420.20" cy="63.44" r="1.3" stroke="none"/>
<circle cx="422.20" cy="62.79" r="1.3" stroke="none"/>
<circle cx="424.20" cy="64.30" r="1.3" stroke="none"/>
<circle cx="426.20" cy="64.14" r="1.3" stroke="none"/>
<circle cx="428.20" cy="65.53" r="1.3" stroke="none"/>
<circle cx="430.20" cy="64.32" r="1.3" stroke="none"/>
<circle cx="432.20" cy="65.40" r="1.3" stroke="none"/>
<circle cx="434.20" cy="65.19" r="1.3" stroke="none"/>
<circle cx="436.20" cy="66.52" r="1.3" stroke="none"/>
<circle cx="438.20" cy="66.17" r="1.3" stroke="none"/>
<circle cx="440.20" cy="67.18" r="1.3" stroke="none"/>
<circle cx="442.20" cy="66.66" r="1.3" stroke="none"/>
<circle cx="444.20" cy="68.51" r="1.3" stroke="none"/>
<circle cx="446.20" cy="67.64" r="1.3" stroke="none"/>
<circle cx="448.20" cy="69.00" r="1.3" stroke="none"/>
<circle cx="450.20" cy="69.14" r="1.3" stroke="none"/>
<circle cx="452.20" cy="70.79" r="1.3" stroke="none"/>
<circle cx="454.20" cy="70.95" r="1.3" stroke="none"/>
<circle cx="456.20" cy="72.50" r="1.3" stroke="none"/>
</g>
<rect x="352.6" y="87.6" width="2.6" height="3.6" fill="none" stroke="#333" stroke-width="0.7"/>
<clipPath id="clip10"><rect x="44.30" y="135.50" width="192.00" height="87.10"/></clipPath>
<g clip-path="url(#clip10)" fill="none" stroke="#1a1a1a" stroke-width="0.9">
<path d="M50.00 133.50 C51.00 133.78 54.17 134.77 56.00 135.20 C57.83 135.63 59.33 135.67 61.00 136.10 C62.67 136.53 64.33 137.18 66.00 137.80 C67.67 138.42 69.33 139.03 71.00 139.80 C72.67 140.57 74.32 141.35 76.00 142.40 C77.68 143.45 79.57 144.72 81.10 146.10 C82.63 147.48 83.82 149.23 85.20 150.70 C86.58 152.17 88.13 153.50 89.40 154.90 C90.67 156.30 91.62 157.95 92.80 159.10 C93.98 160.25 94.83 160.32 96.50 161.80 C98.17 163.28 100.72 166.13 102.80 168.00 C104.88 169.87 106.92 171.67 109.00 173.00 C111.08 174.33 113.20 175.13 115.30 176.00 C117.40 176.87 118.77 177.50 121.60 178.20 C124.43 178.90 128.27 179.93 132.30 180.20 C136.33 180.47 141.37 180.13 145.80 179.80 C150.23 179.47 154.83 178.43 158.90 178.20 C162.97 177.97 167.35 178.27 170.20 178.40 C173.05 178.53 173.88 178.72 176.00 179.00 C178.12 179.28 180.60 179.75 182.90 180.10 C185.20 180.45 187.50 181.10 189.80 181.10 C192.10 181.10 194.40 180.65 196.70 180.10 C199.00 179.55 201.30 178.65 203.60 177.80 C205.90 176.95 208.20 175.85 210.50 175.00 C212.80 174.15 215.10 173.38 217.40 172.70 C219.70 172.02 222.00 171.38 224.30 170.90 C226.60 170.42 229.08 170.03 231.20 169.80 C233.32 169.57 236.03 169.55 237.00 169.50"/>
<path d="M70.00 133.00 C70.45 133.38 71.42 134.37 72.70 135.30 C73.98 136.23 76.30 137.57 77.70 138.60 C79.10 139.63 79.85 140.32 81.10 141.50 C82.35 142.68 83.82 144.30 85.20 145.70 C86.58 147.10 88.00 148.37 89.40 149.90 C90.80 151.43 92.00 153.13 93.60 154.90 C95.20 156.67 97.27 158.93 99.00 160.50 C100.73 162.07 102.17 162.97 104.00 164.30 C105.83 165.63 107.42 166.97 110.00 168.50 C112.58 170.03 115.73 172.25 119.50 173.50 C123.27 174.75 128.22 175.68 132.60 176.00 C136.98 176.32 141.42 175.82 145.80 175.40 C150.18 174.98 154.83 173.93 158.90 173.50 C162.97 173.07 167.35 172.75 170.20 172.80 C173.05 172.85 173.88 173.25 176.00 173.80 C178.12 174.35 180.60 175.62 182.90 176.10 C185.20 176.58 187.50 176.80 189.80 176.70 C192.10 176.60 194.40 176.17 196.70 175.50 C199.00 174.83 201.30 173.65 203.60 172.70 C205.90 171.75 208.20 170.67 210.50 169.80 C212.80 168.93 215.10 168.17 217.40 167.50 C219.70 166.83 222.00 166.28 224.30 165.80 C226.60 165.32 229.08 164.85 231.20 164.60 C233.32 164.35 236.03 164.35 237.00 164.30" stroke-dasharray="3.4 2.2"/>
<path d="M43.00 139.60 C44.42 139.73 49.33 140.15 51.50 140.40 C53.67 140.65 54.42 140.85 56.00 141.10 C57.58 141.35 59.33 141.48 61.00 141.90 C62.67 142.32 64.33 142.97 66.00 143.60 C67.67 144.23 69.33 144.87 71.00 145.70 C72.67 146.53 74.32 147.55 76.00 148.60 C77.68 149.65 79.42 150.75 81.10 152.00 C82.78 153.25 84.57 154.68 86.10 156.10 C87.63 157.52 88.57 158.62 90.30 160.50 C92.03 162.38 94.42 165.32 96.50 167.40 C98.58 169.48 100.72 171.23 102.80 173.00 C104.88 174.77 106.92 176.63 109.00 178.00 C111.08 179.37 113.20 180.27 115.30 181.20 C117.40 182.13 118.40 182.53 121.60 183.60 C124.80 184.67 130.15 187.25 134.50 187.60 C138.85 187.95 143.63 186.33 147.70 185.70 C151.77 185.07 155.15 183.95 158.90 183.80 C162.65 183.65 167.35 184.57 170.20 184.80 C173.05 185.03 173.88 184.98 176.00 185.20 C178.12 185.42 180.60 185.80 182.90 186.10 C185.20 186.40 187.50 186.93 189.80 187.00 C192.10 187.07 194.40 186.97 196.70 186.50 C199.00 186.03 201.30 185.07 203.60 184.20 C205.90 183.33 208.20 182.17 210.50 181.30 C212.80 180.43 215.10 179.67 217.40 179.00 C219.70 178.33 222.00 177.83 224.30 177.30 C226.60 176.77 229.08 176.10 231.20 175.80 C233.32 175.50 236.03 175.55 237.00 175.50" stroke-dasharray="3.4 2.2"/>
</g>
<g fill="#111" stroke="#444" stroke-width="0.8">
<path d="M84.10 158.10h8.80M84.10 161.10h8.80M88.50 158.10V161.10M86.90 158.60h8.80M86.90 161.00h8.80M91.30 158.60V161.00M90.60 161.00h8.80M90.60 163.40h8.80M95.00 161.00V163.40M93.50 165.40h8.80M93.50 168.40h8.80M97.90 165.40V168.40M97.20 159.70h8.80M97.20 162.10h8.80M101.60 159.70V162.10M100.00 162.90h8.80M100.00 165.30h8.80M104.40 162.90V165.30M103.40 162.00h8.80M103.40 164.40h8.80M107.80 162.00V164.40M106.60 164.50h8.80M106.60 167.50h8.80M111.00 164.50V167.50M110.00 167.70h8.80M110.00 171.70h8.80M114.40 167.70V171.70M113.20 174.80h8.80M113.20 179.80h8.80M117.60 174.80V179.80M118.50 184.90h8.80M118.50 187.30h8.80M122.90 184.90V187.30M121.70 187.90h8.80M121.70 190.30h8.80M126.10 187.90V190.30M124.80 185.50h8.80M124.80 187.90h8.80M129.20 185.50V187.90M127.90 185.10h8.80M127.90 187.10h8.80M132.30 185.10V187.10M131.60 181.90h8.80M131.60 183.90h8.80M136.00 181.90V183.90M134.80 181.90h8.80M134.80 183.90h8.80M139.20 181.90V183.90M138.60 181.30h8.80M138.60 183.30h8.80M143.00 181.30V183.30M141.80 180.00h8.80M141.80 182.00h8.80M146.20 180.00V182.00M145.10 179.10h8.80M145.10 181.10h8.80M149.50 179.10V181.10M148.00 179.50h8.80M148.00 181.50h8.80M152.40 179.50V181.50M150.80 180.00h8.80M150.80 182.00h8.80M155.20 180.00V182.00M154.50 181.00h8.80M154.50 183.00h8.80M158.90 181.00V183.00M157.90 182.50h8.80M157.90 184.50h8.80M162.30 182.50V184.50M162.10 183.80h8.80M162.10 185.80h8.80M166.50 183.80V185.80M166.20 188.30h8.80M166.20 190.70h8.80M170.60 188.30V190.70" fill="none"/>
<circle cx="88.50" cy="159.60" r="2.0" stroke="none"/>
<circle cx="91.30" cy="159.80" r="2.0" stroke="none"/>
<circle cx="95.00" cy="162.20" r="2.0" stroke="none"/>
<circle cx="97.90" cy="166.90" r="2.0" stroke="none"/>
<circle cx="101.60" cy="160.90" r="2.0" stroke="none"/>
<circle cx="104.40" cy="164.10" r="2.0" stroke="none"/>
<circle cx="107.80" cy="163.20" r="2.0" stroke="none"/>
<circle cx="111.00" cy="166.00" r="2.0" stroke="none"/>
<circle cx="114.40" cy="169.70" r="2.0" stroke="none"/>
<circle cx="117.60" cy="177.30" r="2.0" stroke="none"/>
<circle cx="122.90" cy="186.10" r="2.0" stroke="none"/>
<circle cx="126.10" cy="189.10" r="2.0" stroke="none"/>
<circle cx="129.20" cy="186.70" r="2.0" stroke="none"/>
<circle cx="132.30" cy="186.10" r="2.0" stroke="none"/>
<circle cx="136.00" cy="182.90" r="2.0" stroke="none"/>
<circle cx="139.20" cy="182.90" r="2.0" stroke="none"/>
<circle cx="143.00" cy="182.30" r="2.0" stroke="none"/>
<circle cx="146.20" cy="181.00" r="2.0" stroke="none"/>
<circle cx="149.50" cy="180.10" r="2.0" stroke="none"/>
<circle cx="152.40" cy="180.50" r="2.0" stroke="none"/>
<circle cx="155.20" cy="181.00" r="2.0" stroke="none"/>
<circle cx="158.90" cy="182.00" r="2.0" stroke="none"/>
<circle cx="162.30" cy="183.50" r="2.0" stroke="none"/>
<circle cx="166.50" cy="184.80" r="2.0" stroke="none"/>
<circle cx="170.60" cy="189.50" r="2.0" stroke="none"/>
</g>
<clipPath id="clip11"><rect x="331.50" y="135.50" width="192.00" height="87.10"/></clipPath>
<g clip-path="url(#clip11)" fill="none" stroke="#1a1a1a" stroke-width="0.9">
<path d="M330.00 165.50 C330.38 164.73 331.20 163.57 332.30 160.90 C333.40 158.23 335.27 153.05 336.60 149.50 C337.93 145.95 339.32 142.35 340.30 139.60 C341.28 136.85 341.72 135.10 342.50 133.00 C343.28 130.90 343.25 129.50 345.00 127.00 C346.75 124.50 350.33 118.33 353.00 118.00 C355.67 117.67 359.28 122.50 361.00 125.00 C362.72 127.50 362.05 129.58 363.30 133.00 C364.55 136.42 366.92 141.70 368.50 145.50 C370.08 149.30 371.52 152.72 372.80 155.80 C374.08 158.88 375.17 161.38 376.20 164.00 C377.23 166.62 378.05 169.42 379.00 171.50 C379.95 173.58 381.10 175.42 381.90 176.50 C382.70 177.58 382.97 177.98 383.80 178.00 C384.63 178.02 385.75 177.57 386.90 176.60 C388.05 175.63 389.45 173.72 390.70 172.20 C391.95 170.68 393.18 169.12 394.40 167.50 C395.62 165.88 396.47 163.80 398.00 162.50 C399.53 161.20 402.00 160.10 403.60 159.70 C405.20 159.30 406.28 159.78 407.60 160.10 C408.92 160.42 410.20 160.95 411.50 161.60 C412.80 162.25 414.10 163.08 415.40 164.00 C416.70 164.92 417.87 166.05 419.30 167.10 C420.73 168.15 421.57 169.33 424.00 170.30 C426.43 171.27 430.37 172.78 433.90 172.90 C437.43 173.02 441.75 171.78 445.20 171.00 C448.65 170.22 451.13 169.02 454.60 168.20 C458.07 167.38 462.18 166.65 466.00 166.10 C469.82 165.55 473.67 165.38 477.50 164.90 C481.33 164.42 485.18 163.95 489.00 163.20 C492.82 162.45 496.58 161.25 500.40 160.40 C504.22 159.55 509.02 158.68 511.90 158.10 C514.78 157.52 515.52 157.22 517.70 156.90 C519.88 156.58 523.78 156.32 525.00 156.20"/>
<path d="M330.00 160.00 C330.27 159.43 330.67 158.77 331.60 156.60 C332.53 154.43 334.30 150.23 335.60 147.00 C336.90 143.77 338.50 139.70 339.40 137.20 C340.30 134.70 340.40 133.70 341.00 132.00 C341.60 130.30 341.17 129.00 343.00 127.00 C344.83 125.00 349.17 120.33 352.00 120.00 C354.83 119.67 358.08 123.00 360.00 125.00 C361.92 127.00 362.58 129.92 363.50 132.00 C364.42 134.08 364.62 135.60 365.50 137.50 C366.38 139.40 367.72 141.57 368.80 143.40 C369.88 145.23 370.92 146.50 372.00 148.50 C373.08 150.50 374.28 152.83 375.30 155.40 C376.32 157.97 377.17 161.55 378.10 163.90 C379.03 166.25 379.97 168.25 380.90 169.50 C381.83 170.75 382.75 171.40 383.70 171.40 C384.65 171.40 385.50 170.60 386.60 169.50 C387.70 168.40 389.15 166.30 390.30 164.80 C391.45 163.30 392.58 161.93 393.50 160.50 C394.42 159.07 394.77 157.32 395.80 156.20 C396.83 155.08 398.00 154.30 399.70 153.80 C401.40 153.30 404.03 153.07 406.00 153.20 C407.97 153.33 409.93 153.97 411.50 154.60 C413.07 155.23 414.10 156.22 415.40 157.00 C416.70 157.78 417.47 158.07 419.30 159.30 C421.13 160.53 423.65 163.23 426.40 164.40 C429.15 165.57 432.67 166.30 435.80 166.30 C438.93 166.30 442.07 165.18 445.20 164.40 C448.33 163.62 451.13 162.37 454.60 161.60 C458.07 160.83 462.18 160.30 466.00 159.80 C469.82 159.30 473.67 159.08 477.50 158.60 C481.33 158.12 485.18 157.75 489.00 156.90 C492.82 156.05 496.58 154.45 500.40 153.50 C504.22 152.55 508.83 151.78 511.90 151.20 C514.97 150.62 516.62 150.32 518.80 150.00 C520.98 149.68 523.97 149.42 525.00 149.30" stroke-dasharray="3.4 2.2"/>
<path d="M331.00 168.00 C331.63 167.33 333.55 165.90 334.80 164.00 C336.05 162.10 337.05 159.72 338.50 156.60 C339.95 153.48 342.03 148.23 343.50 145.30 C344.97 142.37 346.05 140.58 347.30 139.00 C348.55 137.42 349.88 136.43 351.00 135.80 C352.12 135.17 352.83 135.00 354.00 135.20 C355.17 135.40 356.67 135.95 358.00 137.00 C359.33 138.05 360.67 139.83 362.00 141.50 C363.33 143.17 364.67 144.75 366.00 147.00 C367.33 149.25 368.73 152.17 370.00 155.00 C371.27 157.83 372.43 160.92 373.60 164.00 C374.77 167.08 376.00 170.53 377.00 173.50 C378.00 176.47 378.55 179.50 379.60 181.80 C380.65 184.10 382.08 186.70 383.30 187.30 C384.52 187.90 385.67 186.67 386.90 185.40 C388.13 184.13 389.28 181.73 390.70 179.70 C392.12 177.67 394.15 174.90 395.40 173.20 C396.65 171.50 396.57 170.45 398.20 169.50 C399.83 168.55 402.98 167.63 405.20 167.50 C407.42 167.37 409.42 167.98 411.50 168.70 C413.58 169.42 416.02 170.75 417.70 171.80 C419.38 172.85 419.83 173.57 421.60 175.00 C423.37 176.43 425.93 179.18 428.30 180.40 C430.67 181.62 432.98 182.45 435.80 182.30 C438.62 182.15 442.07 180.43 445.20 179.50 C448.33 178.57 451.13 177.50 454.60 176.70 C458.07 175.90 462.18 175.22 466.00 174.70 C469.82 174.18 473.67 174.17 477.50 173.60 C481.33 173.03 485.18 172.07 489.00 171.30 C492.82 170.53 496.58 169.77 500.40 169.00 C504.22 168.23 508.83 167.18 511.90 166.70 C514.97 166.22 516.62 166.30 518.80 166.10 C520.98 165.90 523.97 165.60 525.00 165.50" stroke-dasharray="3.4 2.2"/>
</g>
<g fill="#111" stroke="#444" stroke-width="0.8">
<path d="M374.20 167.20h8.80M374.20 169.20h8.80M378.60 167.20V169.20M379.00 164.00h8.80M379.00 166.00h8.80M383.40 164.00V166.00M384.40 161.60h8.80M384.40 163.60h8.80M388.80 161.60V163.60M386.70 160.60h8.80M386.70 162.60h8.80M391.10 160.60V162.60M390.30 157.50h8.80M390.30 159.50h8.80M394.70 157.50V159.50M394.20 157.30h8.80M394.20 159.30h8.80M398.60 157.30V159.30M397.20 154.40h8.80M397.20 156.40h8.80M401.60 154.40V156.40M400.20 153.20h8.80M400.20 155.20h8.80M404.60 153.20V155.20M403.20 157.60h8.80M403.20 159.60h8.80M407.60 157.60V159.60M407.00 155.10h8.80M407.00 157.10h8.80M411.40 155.10V157.10M410.10 156.00h8.80M410.10 158.00h8.80M414.50 156.00V158.00M413.60 158.70h8.80M413.60 160.70h8.80M418.00 158.70V160.70M417.10 159.40h8.80M417.10 161.40h8.80M421.50 159.40V161.40M420.60 160.80h8.80M420.60 162.80h8.80M425.00 160.80V162.80M428.60 174.50h8.80M428.60 176.90h8.80M433.00 174.50V176.90M432.30 177.30h8.80M432.30 179.70h8.80M436.70 177.30V179.70M435.10 175.50h8.80M435.10 177.90h8.80M439.50 175.50V177.90M438.90 178.30h8.80M438.90 180.70h8.80M443.30 178.30V180.70M442.70 180.20h8.80M442.70 182.60h8.80M447.10 180.20V182.60M446.40 179.20h8.80M446.40 181.60h8.80M450.80 179.20V181.60M450.20 180.80h8.80M450.20 183.80h8.80M454.60 180.80V183.80M453.90 183.60h8.80M453.90 186.60h8.80M458.30 183.60V186.60M457.70 185.40h8.80M457.70 190.40h8.80M462.10 185.40V190.40" fill="none"/>
<circle cx="378.60" cy="168.20" r="2.0" stroke="none"/>
<circle cx="383.40" cy="165.00" r="2.0" stroke="none"/>
<circle cx="388.80" cy="162.60" r="2.0" stroke="none"/>
<circle cx="391.10" cy="161.60" r="2.0" stroke="none"/>
<circle cx="394.70" cy="158.50" r="2.0" stroke="none"/>
<circle cx="398.60" cy="158.30" r="2.0" stroke="none"/>
<circle cx="401.60" cy="155.40" r="2.0" stroke="none"/>
<circle cx="404.60" cy="154.20" r="2.0" stroke="none"/>
<circle cx="407.60" cy="158.60" r="2.0" stroke="none"/>
<circle cx="411.40" cy="156.10" r="2.0" stroke="none"/>
<circle cx="414.50" cy="157.00" r="2.0" stroke="none"/>
<circle cx="418.00" cy="159.70" r="2.0" stroke="none"/>
<circle cx="421.50" cy="160.40" r="2.0" stroke="none"/>
<circle cx="425.00" cy="161.80" r="2.0" stroke="none"/>
<circle cx="433.00" cy="175.70" r="2.0" stroke="none"/>
<circle cx="436.70" cy="178.50" r="2.0" stroke="none"/>
<circle cx="439.50" cy="176.70" r="2.0" stroke="none"/>
<circle cx="443.30" cy="179.50" r="2.0" stroke="none"/>
<circle cx="447.10" cy="181.40" r="2.0" stroke="none"/>
<circle cx="450.80" cy="180.40" r="2.0" stroke="none"/>
<circle cx="454.60" cy="182.30" r="2.0" stroke="none"/>
<circle cx="458.30" cy="185.10" r="2.0" stroke="none"/>
<circle cx="462.10" cy="187.90" r="2.0" stroke="none"/>
</g>
<clipPath id="clip20"><rect x="44.30" y="266.50" width="192.00" height="87.80"/></clipPath>
<g clip-path="url(#clip20)" fill="none" stroke="#1a1a1a" stroke-width="0.9">
<path d="M43.00 294.00 C44.22 294.35 48.05 295.38 50.30 296.10 C52.55 296.82 54.42 298.30 56.50 298.30 C58.58 298.30 60.70 297.62 62.80 296.10 C64.90 294.58 67.02 291.50 69.10 289.20 C71.18 286.90 73.22 284.08 75.30 282.30 C77.38 280.52 79.50 279.02 81.60 278.50 C83.70 277.98 85.82 278.47 87.90 279.20 C89.98 279.93 92.02 281.23 94.10 282.90 C96.18 284.57 98.75 287.52 100.40 289.20 C102.05 290.88 102.40 290.87 104.00 293.00 C105.60 295.13 107.92 299.52 110.00 302.00 C112.08 304.48 114.32 306.32 116.50 307.90 C118.68 309.48 120.92 310.78 123.10 311.50 C125.28 312.22 127.43 312.18 129.60 312.20 C131.77 312.22 133.93 311.75 136.10 311.60 C138.27 311.45 140.43 311.37 142.60 311.30 C144.77 311.23 145.85 311.05 149.10 311.20 C152.35 311.35 157.62 311.87 162.10 312.20 C166.58 312.53 172.12 312.87 176.00 313.20 C179.88 313.53 182.27 314.12 185.40 314.20 C188.53 314.28 191.67 314.30 194.80 313.70 C197.93 313.10 201.07 311.78 204.20 310.60 C207.33 309.42 210.47 307.65 213.60 306.60 C216.73 305.55 219.87 304.95 223.00 304.30 C226.13 303.65 230.07 303.03 232.40 302.70 C234.73 302.37 236.23 302.37 237.00 302.30"/>
<path d="M43.00 286.50 C44.22 286.95 48.05 288.33 50.30 289.20 C52.55 290.07 54.42 291.60 56.50 291.70 C58.58 291.80 60.70 291.37 62.80 289.80 C64.90 288.23 67.02 284.70 69.10 282.30 C71.18 279.90 73.22 277.18 75.30 275.40 C77.38 273.62 79.50 272.12 81.60 271.60 C83.70 271.08 85.82 271.57 87.90 272.30 C89.98 273.03 92.02 274.33 94.10 276.00 C96.18 277.67 98.75 280.42 100.40 282.30 C102.05 284.18 102.40 285.22 104.00 287.30 C105.60 289.38 107.92 292.47 110.00 294.80 C112.08 297.13 114.32 299.68 116.50 301.30 C118.68 302.92 120.92 303.88 123.10 304.50 C125.28 305.12 127.43 304.98 129.60 305.00 C131.77 305.02 133.93 304.67 136.10 304.60 C138.27 304.53 140.43 304.53 142.60 304.60 C144.77 304.67 145.85 304.82 149.10 305.00 C152.35 305.18 157.62 305.48 162.10 305.70 C166.58 305.92 172.12 306.02 176.00 306.30 C179.88 306.58 182.27 307.35 185.40 307.40 C188.53 307.45 191.67 307.25 194.80 306.60 C197.93 305.95 201.07 304.67 204.20 303.50 C207.33 302.33 210.47 300.65 213.60 299.60 C216.73 298.55 219.87 297.85 223.00 297.20 C226.13 296.55 230.07 296.02 232.40 295.70 C234.73 295.38 236.23 295.37 237.00 295.30" stroke-dasharray="3.4 2.2"/>
<path d="M43.00 303.40 C44.22 303.95 48.05 305.83 50.30 306.70 C52.55 307.57 54.42 308.92 56.50 308.60 C58.58 308.28 60.70 306.57 62.80 304.80 C64.90 303.03 67.02 300.28 69.10 298.00 C71.18 295.72 73.22 292.78 75.30 291.10 C77.38 289.42 79.50 288.22 81.60 287.90 C83.70 287.58 85.82 288.37 87.90 289.20 C89.98 290.03 92.02 291.33 94.10 292.90 C96.18 294.47 98.75 296.95 100.40 298.60 C102.05 300.25 102.40 300.73 104.00 302.80 C105.60 304.87 108.05 308.55 110.00 311.00 C111.95 313.45 113.70 315.92 115.70 317.50 C117.70 319.08 119.62 319.83 122.00 320.50 C124.38 321.17 127.67 321.37 130.00 321.50 C132.33 321.63 132.82 321.22 136.00 321.30 C139.18 321.38 144.75 321.67 149.10 322.00 C153.45 322.33 157.62 323.05 162.10 323.30 C166.58 323.55 172.12 323.27 176.00 323.50 C179.88 323.73 182.27 324.63 185.40 324.70 C188.53 324.77 191.67 324.55 194.80 323.90 C197.93 323.25 201.07 321.98 204.20 320.80 C207.33 319.62 210.47 317.98 213.60 316.80 C216.73 315.62 219.87 314.62 223.00 313.70 C226.13 312.78 230.07 311.77 232.40 311.30 C234.73 310.83 236.23 310.97 237.00 310.90" stroke-dasharray="3.4 2.2"/>
</g>
<g fill="#111" stroke="#444" stroke-width="0.8">
<path d="M83.80 315.60h8.80M83.80 320.60h8.80M88.20 315.60V320.60M87.10 305.80h8.80M87.10 313.40h8.80M91.50 305.80V313.40M90.90 311.20h8.80M90.90 320.60h8.80M95.30 311.20V320.60M93.70 301.90h8.80M93.70 308.90h8.80M98.10 301.90V308.90M97.00 311.00h8.80M97.00 323.20h8.80M101.40 311.00V323.20M100.30 300.90h8.80M100.30 308.90h8.80M104.70 300.90V308.90M103.60 319.70h8.80M103.60 352.30h8.80M108.00 319.70V352.30M106.40 311.20h8.80M106.40 324.20h8.80M110.80 311.20V324.20M109.90 302.70h8.80M109.90 311.70h8.80M114.30 302.70V311.70M112.80 290.70h8.80M112.80 295.70h8.80M117.20 290.70V295.70M116.00 289.00h8.80M116.00 294.00h8.80M120.40 289.00V294.00M118.70 288.40h8.80M118.70 293.40h8.80M123.10 288.40V293.40M122.60 292.30h8.80M122.60 297.30h8.80M127.00 292.30V297.30M125.80 289.00h8.80M125.80 294.00h8.80M130.20 289.00V294.00M128.40 288.40h8.80M128.40 293.40h8.80M132.80 288.40V293.40M131.70 288.10h8.80M131.70 293.10h8.80M136.10 288.10V293.10M135.00 288.60h8.80M135.00 293.60h8.80M139.40 288.60V293.60M138.50 276.30h8.80M138.50 282.50h8.80M142.90 276.30V282.50M141.40 309.90h8.80M141.40 317.10h8.80M145.80 309.90V317.10M144.70 314.90h8.80M144.70 323.90h8.80M149.10 314.90V323.90M147.90 307.90h8.80M147.90 313.90h8.80M152.30 307.90V313.90M151.20 305.30h8.80M151.20 311.30h8.80M155.60 305.30V311.30M154.40 310.70h8.80M154.40 317.70h8.80M158.80 310.70V317.70M157.70 307.00h8.80M157.70 313.40h8.80M162.10 307.00V313.40M161.00 310.50h8.80M161.00 316.50h8.80M165.40 310.50V316.50M164.20 315.20h8.80M164.20 322.20h8.80M168.60 315.20V322.20M166.80 318.00h8.80M166.80 326.00h8.80M171.20 318.00V326.00" fill="none"/>
<circle cx="88.20" cy="318.10" r="2.0" stroke="none"/>
<circle cx="91.50" cy="309.60" r="2.0" stroke="none"/>
<circle cx="95.30" cy="315.90" r="2.0" stroke="none"/>
<circle cx="98.10" cy="305.40" r="2.0" stroke="none"/>
<circle cx="101.40" cy="315.70" r="2.0" stroke="none"/>
<circle cx="104.70" cy="304.90" r="2.0" stroke="none"/>
<circle cx="108.00" cy="330.30" r="2.0" stroke="none"/>
<circle cx="110.80" cy="316.20" r="2.0" stroke="none"/>
<circle cx="114.30" cy="307.20" r="2.0" stroke="none"/>
<circle cx="117.20" cy="293.20" r="2.0" stroke="none"/>
<circle cx="120.40" cy="291.50" r="2.0" stroke="none"/>
<circle cx="123.10" cy="290.90" r="2.0" stroke="none"/>
<circle cx="127.00" cy="294.80" r="2.0" stroke="none"/>
<circle cx="130.20" cy="291.50" r="2.0" stroke="none"/>
<circle cx="132.80" cy="290.90" r="2.0" stroke="none"/>
<circle cx="136.10" cy="290.60" r="2.0" stroke="none"/>
<circle cx="139.40" cy="291.10" r="2.0" stroke="none"/>
<circle cx="142.90" cy="279.40" r="2.0" stroke="none"/>
<circle cx="145.80" cy="313.50" r="2.0" stroke="none"/>
<circle cx="149.10" cy="319.40" r="2.0" stroke="none"/>
<circle cx="152.30" cy="310.90" r="2.0" stroke="none"/>
<circle cx="155.60" cy="308.30" r="2.0" stroke="none"/>
<circle cx="158.80" cy="314.20" r="2.0" stroke="none"/>
<circle cx="162.10" cy="310.20" r="2.0" stroke="none"/>
<circle cx="165.40" cy="313.50" r="2.0" stroke="none"/>
<circle cx="168.60" cy="318.70" r="2.0" stroke="none"/>
<circle cx="171.20" cy="322.00" r="2.0" stroke="none"/>
</g>
<clipPath id="clip21"><rect x="331.50" y="266.50" width="192.00" height="87.80"/></clipPath>
<g clip-path="url(#clip21)" fill="none" stroke="#1a1a1a" stroke-width="0.9">
<path d="M330.50 298.50 C331.80 295.92 336.00 288.27 338.30 283.00 C340.60 277.73 343.02 270.57 344.30 266.90 C345.58 263.23 344.55 263.82 346.00 261.00 C347.45 258.18 350.67 251.00 353.00 250.00 C355.33 249.00 358.17 253.00 360.00 255.00 C361.83 257.00 363.00 260.02 364.00 262.00 C365.00 263.98 364.97 264.57 366.00 266.90 C367.03 269.23 368.87 273.07 370.20 276.00 C371.53 278.93 372.70 281.75 374.00 284.50 C375.30 287.25 376.83 290.42 378.00 292.50 C379.17 294.58 380.00 295.83 381.00 297.00 C382.00 298.17 383.00 299.25 384.00 299.50 C385.00 299.75 386.00 299.17 387.00 298.50 C388.00 297.83 388.63 296.87 390.00 295.50 C391.37 294.13 393.47 291.78 395.20 290.30 C396.93 288.82 398.65 287.38 400.40 286.60 C402.15 285.82 403.95 285.68 405.70 285.60 C407.45 285.52 409.17 285.50 410.90 286.10 C412.63 286.70 414.37 288.07 416.10 289.20 C417.83 290.33 419.57 291.68 421.30 292.90 C423.03 294.12 424.75 295.55 426.50 296.50 C428.25 297.45 430.05 298.13 431.80 298.60 C433.55 299.07 435.30 299.32 437.00 299.30 C438.70 299.28 439.90 299.13 442.00 298.50 C444.10 297.87 446.17 296.33 449.60 295.50 C453.03 294.67 458.20 293.98 462.60 293.50 C467.00 293.02 472.10 293.07 476.00 292.60 C479.90 292.13 482.67 291.55 486.00 290.70 C489.33 289.85 492.65 288.55 496.00 287.50 C499.35 286.45 502.75 285.23 506.10 284.40 C509.45 283.57 512.95 283.03 516.10 282.50 C519.25 281.97 523.52 281.42 525.00 281.20"/>
<path d="M330.50 296.00 C331.55 293.83 334.83 287.85 336.80 283.00 C338.77 278.15 341.10 270.57 342.30 266.90 C343.50 263.23 342.55 263.82 344.00 261.00 C345.45 258.18 348.00 251.00 351.00 250.00 C354.00 249.00 359.50 253.00 362.00 255.00 C364.50 257.00 365.00 260.02 366.00 262.00 C367.00 263.98 366.95 264.57 368.00 266.90 C369.05 269.23 370.97 273.15 372.30 276.00 C373.63 278.85 374.72 281.58 376.00 284.00 C377.28 286.42 378.83 288.83 380.00 290.50 C381.17 292.17 382.00 293.25 383.00 294.00 C384.00 294.75 385.00 295.08 386.00 295.00 C387.00 294.92 388.00 294.33 389.00 293.50 C390.00 292.67 390.83 291.25 392.00 290.00 C393.17 288.75 394.60 287.27 396.00 286.00 C397.40 284.73 398.78 283.08 400.40 282.40 C402.02 281.72 403.95 281.90 405.70 281.90 C407.45 281.90 409.18 282.05 410.90 282.40 C412.62 282.75 414.27 283.38 416.00 284.00 C417.73 284.62 419.55 285.18 421.30 286.10 C423.05 287.02 424.72 288.52 426.50 289.50 C428.28 290.48 429.75 291.50 432.00 292.00 C434.25 292.50 437.07 292.58 440.00 292.50 C442.93 292.42 445.83 292.10 449.60 291.50 C453.37 290.90 458.20 289.40 462.60 288.90 C467.00 288.40 472.52 288.83 476.00 288.50 C479.48 288.17 480.37 287.68 483.50 286.90 C486.63 286.12 490.83 284.83 494.80 283.80 C498.77 282.77 503.53 281.53 507.30 280.70 C511.07 279.87 514.45 279.25 517.40 278.80 C520.35 278.35 523.73 278.13 525.00 278.00" stroke-dasharray="3.4 2.2"/>
<path d="M330.50 301.50 C332.05 298.42 337.15 288.77 339.80 283.00 C342.45 277.23 345.03 270.57 346.40 266.90 C347.77 263.23 346.57 263.48 348.00 261.00 C349.43 258.52 353.17 253.00 355.00 252.00 C356.83 251.00 357.83 253.33 359.00 255.00 C360.17 256.67 361.17 260.02 362.00 262.00 C362.83 263.98 363.00 264.57 364.00 266.90 C365.00 269.23 366.67 273.07 368.00 276.00 C369.33 278.93 370.67 281.75 372.00 284.50 C373.33 287.25 374.83 290.17 376.00 292.50 C377.17 294.83 378.00 296.83 379.00 298.50 C380.00 300.17 381.00 301.55 382.00 302.50 C383.00 303.45 384.00 304.15 385.00 304.20 C386.00 304.25 387.00 303.62 388.00 302.80 C389.00 301.98 389.80 300.43 391.00 299.30 C392.20 298.17 393.63 297.07 395.20 296.00 C396.77 294.93 398.65 293.60 400.40 292.90 C402.15 292.20 403.95 291.80 405.70 291.80 C407.45 291.80 409.17 292.20 410.90 292.90 C412.63 293.60 414.37 294.87 416.10 296.00 C417.83 297.13 419.57 298.57 421.30 299.70 C423.03 300.83 424.75 302.02 426.50 302.80 C428.25 303.58 429.55 304.00 431.80 304.40 C434.05 304.80 437.03 305.50 440.00 305.20 C442.97 304.90 445.83 303.35 449.60 302.60 C453.37 301.85 458.20 301.43 462.60 300.70 C467.00 299.97 472.10 298.93 476.00 298.20 C479.90 297.47 482.67 297.13 486.00 296.30 C489.33 295.47 492.65 294.13 496.00 293.20 C499.35 292.27 502.75 291.53 506.10 290.70 C509.45 289.87 512.95 288.75 516.10 288.20 C519.25 287.65 523.52 287.53 525.00 287.40" stroke-dasharray="3.4 2.2"/>
</g>
<g fill="#111" stroke="#444" stroke-width="0.8">
<path d="M374.30 294.80h8.80M374.30 297.80h8.80M378.70 294.80V297.80M377.40 296.80h8.80M377.40 299.80h8.80M381.80 296.80V299.80M380.60 300.50h8.80M380.60 303.50h8.80M385.00 300.50V303.50M384.30 298.50h8.80M384.30 301.50h8.80M388.70 298.50V301.50M387.20 296.30h8.80M387.20 299.30h8.80M391.60 296.30V299.30M390.20 288.60h8.80M390.20 291.60h8.80M394.60 288.60V291.60M393.40 289.10h8.80M393.40 291.50h8.80M397.80 289.10V291.50M397.10 285.90h8.80M397.10 288.30h8.80M401.50 285.90V288.30M400.70 282.30h8.80M400.70 284.70h8.80M405.10 282.30V284.70M404.40 283.30h8.80M404.40 285.30h8.80M408.80 283.30V285.30M407.50 282.50h8.80M407.50 284.50h8.80M411.90 282.50V284.50M410.70 282.60h8.80M410.70 284.60h8.80M415.10 282.60V284.60M413.80 283.00h8.80M413.80 285.00h8.80M418.20 283.00V285.00M416.40 284.00h8.80M416.40 286.00h8.80M420.80 284.00V286.00M419.50 283.30h8.80M419.50 285.30h8.80M423.90 283.30V285.30M422.10 286.50h8.80M422.10 288.90h8.80M426.50 286.50V288.90M425.10 286.80h8.80M425.10 289.20h8.80M429.50 286.80V289.20M428.90 278.30h8.80M428.90 286.80h8.80M433.30 278.30V286.80M432.10 299.60h8.80M432.10 304.60h8.80M436.50 299.60V304.60M435.40 295.30h8.80M435.40 298.30h8.80M439.80 295.30V298.30M438.00 292.70h8.80M438.00 295.70h8.80M442.40 292.70V295.70M441.30 296.60h8.80M441.30 299.60h8.80M445.70 296.60V299.60M444.50 299.20h8.80M444.50 302.20h8.80M448.90 299.20V302.20M447.80 302.60h8.80M447.80 306.60h8.80M452.20 302.60V306.60M451.10 306.00h8.80M451.10 311.00h8.80M455.50 306.00V311.00M454.30 303.90h8.80M454.30 307.90h8.80M458.70 303.90V307.90" fill="none"/>
<circle cx="378.70" cy="296.30" r="2.0" stroke="none"/>
<circle cx="381.80" cy="298.30" r="2.0" stroke="none"/>
<circle cx="385.00" cy="302.00" r="2.0" stroke="none"/>
<circle cx="388.70" cy="300.00" r="2.0" stroke="none"/>
<circle cx="391.60" cy="297.80" r="2.0" stroke="none"/>
<circle cx="394.60" cy="290.10" r="2.0" stroke="none"/>
<circle cx="397.80" cy="290.30" r="2.0" stroke="none"/>
<circle cx="401.50" cy="287.10" r="2.0" stroke="none"/>
<circle cx="405.10" cy="283.50" r="2.0" stroke="none"/>
<circle cx="408.80" cy="284.30" r="2.0" stroke="none"/>
<circle cx="411.90" cy="283.50" r="2.0" stroke="none"/>
<circle cx="415.10" cy="283.60" r="2.0" stroke="none"/>
<circle cx="418.20" cy="284.00" r="2.0" stroke="none"/>
<circle cx="420.80" cy="285.00" r="2.0" stroke="none"/>
<circle cx="423.90" cy="284.30" r="2.0" stroke="none"/>
<circle cx="426.50" cy="287.70" r="2.0" stroke="none"/>
<circle cx="429.50" cy="288.00" r="2.0" stroke="none"/>
<circle cx="433.30" cy="282.30" r="2.0" stroke="none"/>
<circle cx="436.50" cy="302.10" r="2.0" stroke="none"/>
<circle cx="439.80" cy="296.80" r="2.0" stroke="none"/>
<circle cx="442.40" cy="294.20" r="2.0" stroke="none"/>
<circle cx="445.70" cy="298.10" r="2.0" stroke="none"/>
<circle cx="448.90" cy="300.70" r="2.0" stroke="none"/>
<circle cx="452.20" cy="304.60" r="2.0" stroke="none"/>
<circle cx="455.50" cy="308.50" r="2.0" stroke="none"/>
<circle cx="458.70" cy="305.90" r="2.0" stroke="none"/>
</g>
</svg>
</body></html>
